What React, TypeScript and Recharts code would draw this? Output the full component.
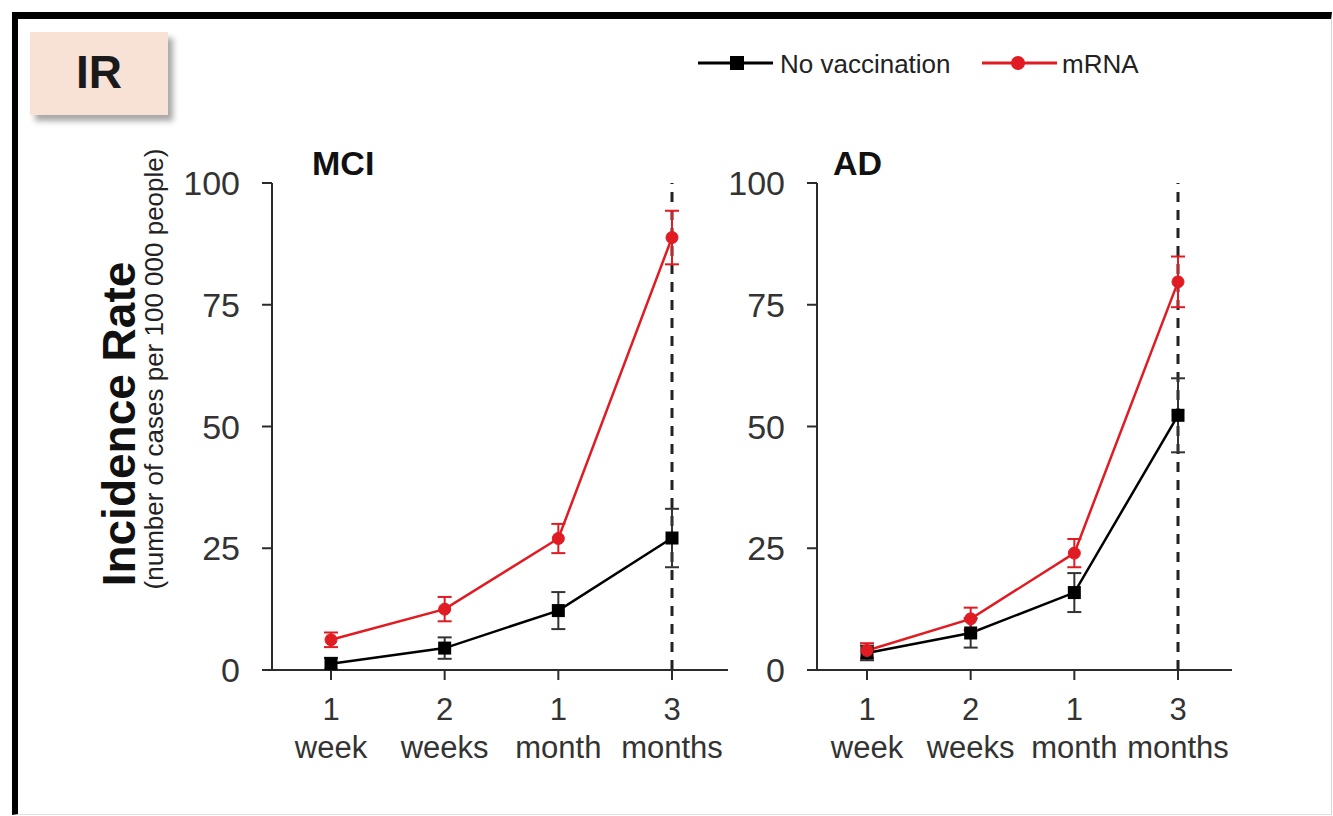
import React from "react";
import {
  LineChart,
  Line,
  XAxis,
  YAxis,
  ErrorBar,
  ReferenceLine,
} from "recharts";

// time points after vaccination
const periods = ["1 week", "2 weeks", "1 month", "3 months"];
const yTicks = [0, 25, 50, 75, 100];

// MCI panel
const mciNoVax = [1.3, 4.5, 12.2, 27.1];
const mciNoVaxErr = [1.2, 2.2, 3.8, 6];
const mciMrna = [6.2, 12.5, 27, 88.8];
const mciMrnaErr = [1.5, 2.5, 3, 5.5];

// AD panel
const adNoVax = [3.5, 7.6, 15.9, 52.3];
const adNoVaxErr = [1.5, 3, 4, 7.6];
const adMrna = [4, 10.5, 24, 79.7];
const adMrnaErr = [1.5, 2.3, 2.9, 5.2];

const RED = "#e11b22";
const DARK = "#2b2b2b";
const FONT = '"Liberation Sans", Arial, sans-serif';

const CHART_TOP = 183;
const PLOT_H = 487;
const Y_AXIS_W = 100;

function buildRows(noVax: number[], noVaxErr: number[], mrna: number[], mrnaErr: number[]) {
  return periods.map((p, i) => ({
    period: p,
    noVax: noVax[i],
    noVaxErr: noVaxErr[i],
    mrna: mrna[i],
    mrnaErr: mrnaErr[i],
  }));
}

function PeriodTick(props: any) {
  const { x, y, payload } = props;
  const [num, unit] = String(payload.value).split(" ");
  return (
    <g>
      <text x={x} y={y + 40} textAnchor="middle" fontSize={31} fill="#333" fontFamily={FONT}>
        {num}
      </text>
      <text x={x} y={y + 78} textAnchor="middle" fontSize={31} fill="#333" fontFamily={FONT}>
        {unit}
      </text>
    </g>
  );
}

function SquareDot(props: any) {
  const { cx, cy, index } = props;
  if (cx == null || cy == null) return <g key={index} />;
  return <rect key={index} x={cx - 6.5} y={cy - 6.5} width={13} height={13} fill="#000" />;
}

interface PanelProps {
  axisX: number;
  right: number;
  padLeft: number;
  padRight: number;
  rows: ReturnType<typeof buildRows>;
}

function Panel({ axisX, right, padLeft, padRight, rows }: PanelProps) {
  const plotW = right - axisX;
  const width = Y_AXIS_W + plotW + 10;
  const height = CHART_TOP + PLOT_H + 120;
  return (
    <div style={{ position: "absolute", left: axisX - Y_AXIS_W, top: 0 }}>
      <LineChart
        width={width}
        height={height}
        data={rows}
        margin={{ top: CHART_TOP, right: 10, bottom: 0, left: 0 }}
      >
        <XAxis
          dataKey="period"
          padding={{ left: padLeft, right: padRight }}
          height={120}
          tickSize={10}
          tickMargin={0}
          tick={<PeriodTick />}
          axisLine={{ stroke: DARK, strokeWidth: 2 }}
          tickLine={{ stroke: DARK, strokeWidth: 2 }}
          interval={0}
        />
        <YAxis
          width={Y_AXIS_W}
          domain={[0, 100]}
          ticks={yTicks}
          tickSize={10}
          tickMargin={22}
          tick={{ fontSize: 34, fill: "#333", fontFamily: FONT }}
          axisLine={{ stroke: DARK, strokeWidth: 2 }}
          tickLine={{ stroke: DARK, strokeWidth: 2 }}
        />
        <ReferenceLine x="3 months" stroke="#222" strokeWidth={3} strokeDasharray="10 8" />
        <Line
          dataKey="noVax"
          stroke="#000"
          strokeWidth={2.5}
          dot={<SquareDot />}
          isAnimationActive={false}
        >
          <ErrorBar dataKey="noVaxErr" direction="y" width={7} stroke="#333" strokeWidth={2} />
        </Line>
        <Line
          dataKey="mrna"
          stroke={RED}
          strokeWidth={2.5}
          dot={{ r: 6, fill: RED, stroke: RED, strokeWidth: 1 }}
          isAnimationActive={false}
        >
          <ErrorBar dataKey="mrnaErr" direction="y" width={7} stroke={RED} strokeWidth={2} />
        </Line>
      </LineChart>
    </div>
  );
}

export default function App() {
  const mciRows = buildRows(mciNoVax, mciNoVaxErr, mciMrna, mciMrnaErr);
  const adRows = buildRows(adNoVax, adNoVaxErr, adMrna, adMrnaErr);

  return (
    <div
      style={{
        position: "absolute",
        left: 0,
        top: 0,
        width: 1333,
        height: 816,
        overflow: "hidden",
        background: "#fff",
        fontFamily: FONT,
      }}
    >
      <div
        style={{
          position: "absolute",
          left: 12,
          top: 12,
          width: 1313,
          height: 795,
          borderLeft: "6px solid #000",
          borderTop: "7px solid #000",
          borderRight: "1px solid #d6d6d6",
          borderBottom: "1px solid #e0e0e0",
        }}
      />
      <div
        style={{
          position: "absolute",
          left: 30,
          top: 32,
          width: 138,
          height: 83,
          background: "#f8e1d5",
          boxShadow: "5px 6px 6px rgba(0,0,0,0.35)",
        }}
      >
        <div
          style={{
            position: "absolute",
            left: 0,
            top: 14,
            width: 138,
            textAlign: "center",
            fontSize: 46,
            fontWeight: "bold",
            color: "#1a1a1a",
            lineHeight: "52px",
          }}
        >
          IR
        </div>
      </div>

      <Panel axisX={272} right={728} padLeft={59} padRight={56} rows={mciRows} />
      <Panel axisX={817} right={1232} padLeft={50} padRight={54} rows={adRows} />

      <svg
        width={1333}
        height={816}
        style={{ position: "absolute", left: 0, top: 0, pointerEvents: "none" }}
        fontFamily={FONT}
      >
        <text x={312} y={175} fontSize={34} fontWeight="bold" fill="#111">
          MCI
        </text>
        <text x={833} y={175} fontSize={34} fontWeight="bold" fill="#111">
          AD
        </text>
        <text
          transform="translate(135,424) rotate(-90)"
          textAnchor="middle"
          fontSize={46}
          fontWeight="bold"
          fill="#111"
        >
          Incidence Rate
        </text>
        <text
          transform="translate(163,369) rotate(-90)"
          textAnchor="middle"
          fontSize={26}
          fill="#222"
        >
          (number of cases per 100 000 people)
        </text>

        {/* legend */}
        <line x1={698} y1={63} x2={773} y2={63} stroke="#000" strokeWidth={3} />
        <rect x={730} y={56} width={14} height={14} fill="#000" />
        <text x={780} y={73} fontSize={26} fill="#222">
          No vaccination
        </text>
        <line x1={982} y1={63} x2={1057} y2={63} stroke={RED} strokeWidth={3} />
        <circle cx={1018} cy={63} r={7} fill={RED} />
        <text x={1062} y={73} fontSize={26} fill="#222">
          mRNA
        </text>
      </svg>
    </div>
  );
}
